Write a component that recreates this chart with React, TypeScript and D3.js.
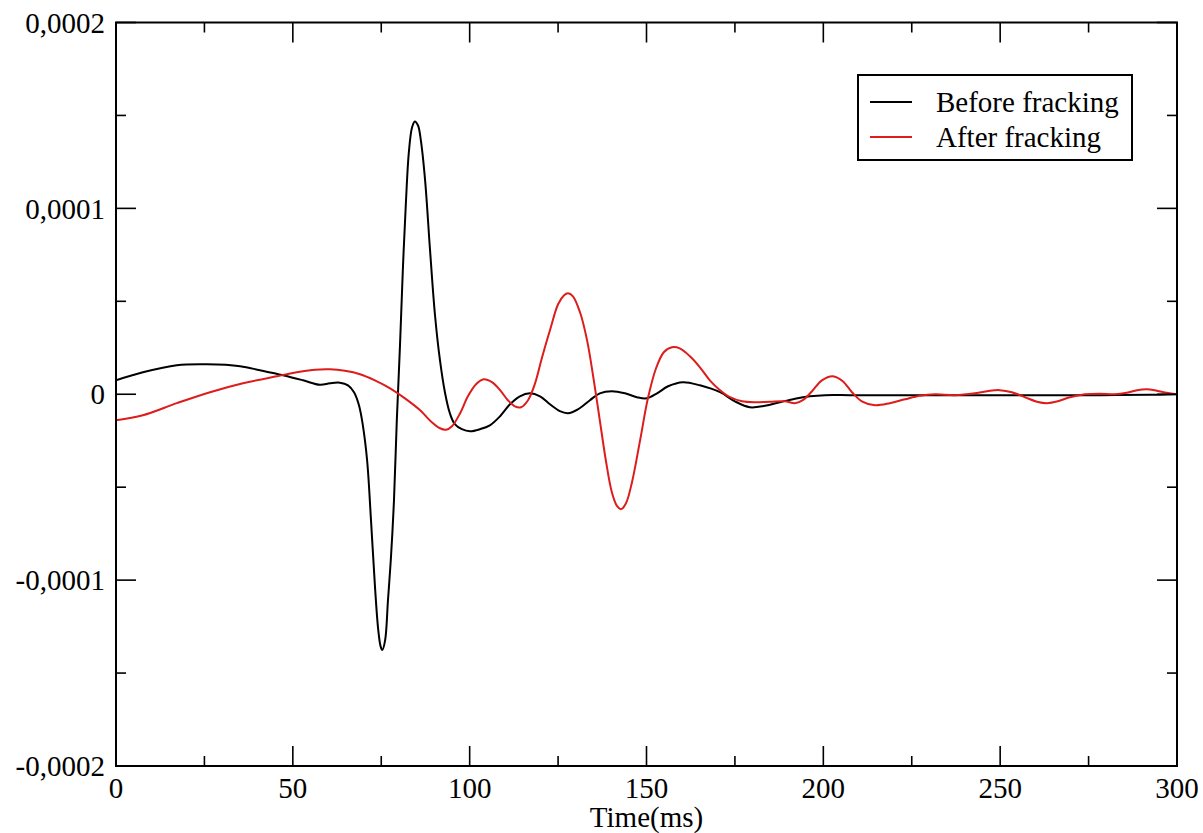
import React from "react";
import * as d3 from "d3";

// Time in ms, amplitudes in units of 1e-5
const beforeTime = [0, 7.6, 17.2, 25.7, 35.1, 40.7, 47.2, 52.9, 57.7, 60.5, 63.3, 65.6, 67.3, 68.7, 69.8, 71.0, 72.1, 73.2, 74.1, 74.8, 75.3, 76.1, 76.9, 77.7, 78.6, 79.4, 80.3, 81.1, 82.0, 82.8, 83.7, 84.5, 85.4, 86.2, 87.4, 88.8, 90.2, 91.6, 93.0, 94.4, 95.8, 97.8, 100.1, 102.9, 105.7, 108.6, 111.4, 114.2, 117.0, 119.9, 122.7, 125.5, 127.8, 130.6, 134.0, 136.8, 140.2, 143.9, 147.3, 150.1, 153.0, 156.1, 160.3, 165.1, 170.8, 175.0, 179.2, 183.5, 187.7, 192.0, 196.2, 200.5, 207.5, 221.7, 235.8, 249.9, 264.1, 278.2, 292.3, 300];
const beforeValues = [0.75, 1.18, 1.56, 1.61, 1.51, 1.29, 1.02, 0.75, 0.51, 0.59, 0.62, 0.48, 0.11, -0.59, -1.67, -3.55, -6.77, -10.27, -12.58, -13.55, -13.76, -13.23, -11.08, -8.92, -5.7, -1.4, 2.63, 6.67, 10.43, 13.01, 14.35, 14.68, 14.46, 13.66, 11.51, 7.74, 4.25, 1.83, 0.11, -1.02, -1.61, -1.88, -1.99, -1.88, -1.67, -1.18, -0.54, -0.11, 0.05, -0.11, -0.54, -0.91, -1.02, -0.81, -0.32, 0.05, 0.16, 0.05, -0.16, -0.22, 0.05, 0.43, 0.65, 0.48, 0.11, -0.38, -0.7, -0.62, -0.43, -0.24, -0.11, -0.05, -0.05, -0.05, -0.05, -0.05, -0.05, -0.05, -0.03, 0];

const afterTime = [0, 7.6, 17.2, 26.6, 35.9, 45.5, 52.0, 56.3, 60.5, 64.7, 69.0, 73.2, 77.5, 81.7, 86.0, 89.3, 91.6, 93.3, 95.0, 97.3, 99.5, 101.8, 104.0, 106.3, 108.6, 110.8, 112.8, 114.5, 116.5, 118.5, 120.4, 122.7, 125.0, 126.7, 127.8, 129.2, 131.2, 133.2, 135.1, 136.8, 138.5, 140.2, 141.7, 142.8, 144.2, 145.9, 148.2, 150.4, 152.7, 154.9, 157.2, 159.4, 162.3, 165.1, 167.9, 170.8, 173.6, 177.0, 180.7, 184.9, 189.1, 192.0, 194.2, 196.8, 199.6, 202.7, 205.5, 208.1, 210.9, 214.6, 218.8, 223.1, 227.3, 231.6, 237.2, 242.9, 247.1, 249.9, 253.3, 257.0, 260.4, 263.2, 266.3, 269.7, 274.0, 278.2, 282.4, 285.8, 288.7, 291.5, 294.3, 297.1, 300];
const afterValues = [-1.4, -1.13, -0.48, 0.11, 0.59, 0.97, 1.21, 1.32, 1.34, 1.26, 1.08, 0.75, 0.32, -0.22, -0.86, -1.51, -1.83, -1.91, -1.72, -1.02, -0.11, 0.54, 0.81, 0.65, 0.22, -0.32, -0.65, -0.7, -0.32, 0.59, 1.94, 3.44, 4.84, 5.32, 5.43, 5.27, 4.41, 2.9, 0.75, -1.4, -3.55, -5.27, -6.02, -6.18, -5.86, -4.73, -2.47, -0.22, 1.4, 2.26, 2.53, 2.47, 2.04, 1.45, 0.75, 0.22, -0.16, -0.38, -0.43, -0.4, -0.38, -0.48, -0.32, 0.16, 0.75, 0.97, 0.7, 0.11, -0.38, -0.59, -0.48, -0.27, -0.08, 0, -0.05, 0.05, 0.19, 0.22, 0.11, -0.16, -0.4, -0.48, -0.38, -0.16, 0, 0.03, 0, 0.08, 0.22, 0.27, 0.19, 0.08, 0];

const xTicks = [0, 50, 100, 150, 200, 250, 300];
const xMinorTicks = [25, 75, 125, 175, 225, 275];
const yTicks = [-20, -10, 0, 10, 20];
const yTickLabels = ["-0,0002", "-0,0001", "0", "0,0001", "0,0002"];
const yMinorTicks = [-15, -5, 5, 15];
const seriesNames = ["Before fracking", "After fracking"];
const seriesColors = ["#000000", "#dd1c1c"];
const xLabel = "Time(ms)";

const W = 1203;
const H = 833;
const left = 116;
const right = 1177;
const top = 22.5;
const bottom = 766;
const FONT = "'Liberation Serif', 'Times New Roman', serif";

export default function App() {
  const x = d3.scaleLinear().domain([0, 300]).range([left, right]);
  const y = d3.scaleLinear().domain([-20, 20]).range([bottom, top]);
  const line = d3
    .line<[number, number]>()
    .x((d) => x(d[0]))
    .y((d) => y(d[1]))
    .curve(d3.curveCatmullRom.alpha(0.5));

  const series = [
    beforeTime.map((t, i) => [t, beforeValues[i]] as [number, number]),
    afterTime.map((t, i) => [t, afterValues[i]] as [number, number]),
  ];

  const majorLen = 20;
  const minorLen = 10;

  return (
    <svg
      width={W}
      height={H}
      style={{ position: "fixed", left: 0, top: 0, background: "#fff" }}
      fontFamily={FONT}
    >
      <rect x={0} y={0} width={W} height={H} fill="#fff" />
      <defs>
        <clipPath id="plotclip">
          <rect x={left} y={top} width={right - left} height={bottom - top} />
        </clipPath>
      </defs>
      {/* curves */}
      <g clipPath="url(#plotclip)">
        {series.map((s, i) => (
          <path
            key={i}
            d={line(s) || ""}
            fill="none"
            stroke={seriesColors[i]}
            strokeWidth={2}
            strokeLinejoin="round"
          />
        ))}
      </g>
      {/* ticks */}
      <g stroke="#000" strokeWidth={1.6}>
        {xTicks.map((t) => (
          <g key={"xt" + t}>
            <line x1={x(t)} x2={x(t)} y1={bottom} y2={bottom - majorLen} />
            <line x1={x(t)} x2={x(t)} y1={top} y2={top + majorLen} />
          </g>
        ))}
        {xMinorTicks.map((t) => (
          <g key={"xm" + t}>
            <line x1={x(t)} x2={x(t)} y1={bottom} y2={bottom - minorLen} />
            <line x1={x(t)} x2={x(t)} y1={top} y2={top + minorLen} />
          </g>
        ))}
        {yTicks.map((t) => (
          <g key={"yt" + t}>
            <line x1={left} x2={left + majorLen} y1={y(t)} y2={y(t)} />
            <line x1={right} x2={right - majorLen} y1={y(t)} y2={y(t)} />
          </g>
        ))}
        {yMinorTicks.map((t) => (
          <g key={"ym" + t}>
            <line x1={left} x2={left + minorLen} y1={y(t)} y2={y(t)} />
            <line x1={right} x2={right - minorLen} y1={y(t)} y2={y(t)} />
          </g>
        ))}
      </g>
      {/* frame */}
      <rect
        x={left}
        y={top}
        width={right - left}
        height={bottom - top}
        fill="none"
        stroke="#000"
        strokeWidth={2}
      />
      {/* tick labels */}
      <g fontSize={29} fill="#000">
        {xTicks.map((t) => (
          <text key={"xl" + t} x={x(t)} y={bottom + 32} textAnchor="middle">
            {String(t)}
          </text>
        ))}
        {yTicks.map((t, i) => (
          <text key={"yl" + t} x={left - 11} y={y(t)} dy="0.35em" textAnchor="end">
            {yTickLabels[i]}
          </text>
        ))}
        <text x={(left + right) / 2} y={827} textAnchor="middle">
          {xLabel}
        </text>
      </g>
      {/* legend */}
      <g>
        <rect x={858} y={75} width={274} height={85} fill="#fff" stroke="#000" strokeWidth={2} />
        {seriesNames.map((n, i) => (
          <g key={n}>
            <line x1={870} x2={912} y1={102 + i * 35} y2={102 + i * 35} stroke={seriesColors[i]} strokeWidth={2} />
            <text x={936} y={102 + i * 35} dy="0.33em" fontSize={29} fill="#000">
              {n}
            </text>
          </g>
        ))}
      </g>
    </svg>
  );
}
